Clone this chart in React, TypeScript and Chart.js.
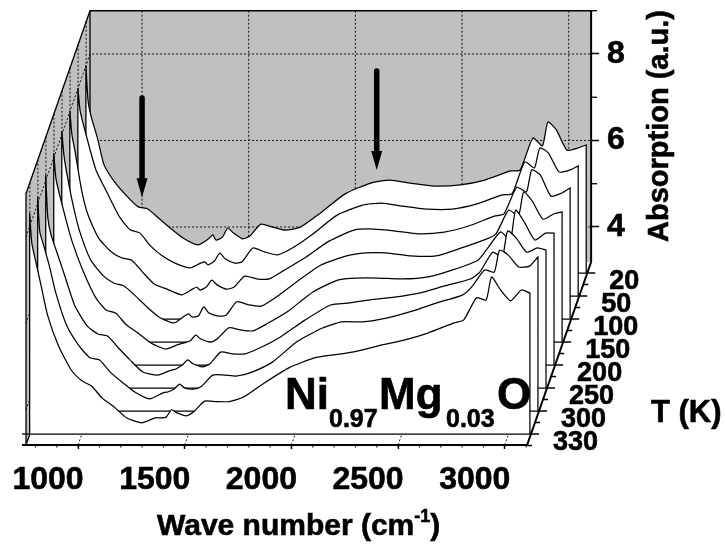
import React, { useEffect, useRef } from "react";
import { Chart, registerables } from "chart.js";

Chart.register(...registerables);

const waveNumbers = [755, 765, 780, 810, 840, 890, 950, 1000, 1045, 1095, 1150, 1210, 1280, 1330, 1350, 1365, 1395, 1420, 1445, 1490, 1525, 1575, 1630, 1690, 1760, 1855, 1970, 2090, 2180, 2275, 2390, 2510, 2625, 2745, 2790, 2850, 2895, 2920, 2960, 3010, 3060, 3100];

const temperatures = ["330", "300", "250", "200", "150", "100", "50", "20"];

const abs330 = [8.30, 7.61, 7.26, 6.59, 5.92, 5.23, 4.67, 4.42, 4.30, 4.02, 3.82, 3.56, 3.45, 3.54, 3.57, 3.56, 3.58, 3.75, 3.68, 3.61, 3.71, 3.95, 3.94, 3.94, 4.05, 4.37, 4.72, 4.95, 5.02, 5.09, 5.23, 5.36, 5.53, 5.76, 5.83, 6.34, 6.29, 6.82, 6.54, 6.27, 6.52, 6.45];
const abs300 = [8.14, 7.33, 7.07, 6.54, 5.92, 5.18, 4.69, 4.42, 4.37, 4.09, 3.86, 3.63, 3.47, 3.58, 3.62, 3.63, 3.70, 3.81, 3.72, 3.70, 3.77, 4.02, 4.02, 4.00, 4.09, 4.32, 4.79, 5.11, 5.25, 5.25, 5.34, 5.50, 5.69, 5.87, 6.06, 6.45, 6.40, 6.91, 6.80, 6.52, 6.54, 6.75];
const abs250 = [8.12, 7.12, 6.73, 6.29, 5.85, 5.11, 4.62, 4.44, 4.39, 4.12, 3.84, 3.56, 3.49, 3.58, 3.61, 3.63, 3.72, 3.84, 3.75, 3.68, 3.75, 4.02, 3.98, 3.98, 4.12, 4.37, 4.76, 5.11, 5.16, 5.23, 5.29, 5.39, 5.55, 5.71, 5.87, 6.33, 6.22, 6.82, 6.66, 6.33, 6.43, 6.38];
const abs200 = [8.09, 7.51, 7.17, 6.59, 6.06, 5.39, 4.76, 4.46, 4.39, 4.12, 3.93, 3.70, 3.56, 3.65, 3.68, 3.70, 3.75, 3.88, 3.79, 3.72, 3.81, 4.05, 4.00, 3.98, 4.16, 4.44, 4.88, 5.16, 5.20, 5.20, 5.18, 5.23, 5.39, 5.62, 5.90, 6.27, 6.08, 6.77, 6.50, 6.08, 6.24, 6.24];
const abs150 = [8.07, 7.51, 7.05, 6.31, 5.73, 5.09, 4.72, 4.55, 4.49, 4.28, 4.02, 3.77, 3.63, 3.79, 3.84, 3.77, 3.79, 4.00, 3.86, 3.79, 3.81, 4.12, 4.05, 4.02, 4.23, 4.58, 4.97, 5.18, 5.25, 5.25, 5.18, 5.18, 5.36, 5.57, 5.69, 6.24, 6.10, 6.66, 6.45, 6.03, 6.15, 6.20];
const abs100 = [8.00, 7.44, 7.05, 6.17, 5.60, 5.06, 4.74, 4.60, 4.55, 4.28, 4.00, 3.88, 3.75, 3.88, 3.93, 3.86, 3.93, 4.09, 3.98, 3.88, 3.93, 4.18, 4.12, 4.12, 4.32, 4.60, 4.99, 5.25, 5.27, 5.23, 5.16, 5.20, 5.34, 5.57, 5.62, 6.24, 6.13, 6.64, 6.52, 6.03, 6.10, 6.22];
const abs50 = [8.00, 7.49, 7.17, 6.61, 6.10, 5.60, 5.02, 4.72, 4.65, 4.35, 4.12, 3.95, 3.84, 3.95, 3.98, 3.91, 4.00, 4.18, 4.05, 3.95, 3.98, 4.30, 4.21, 4.14, 4.30, 4.62, 5.06, 5.29, 5.34, 5.27, 5.20, 5.20, 5.32, 5.53, 5.55, 6.29, 6.15, 6.61, 6.50, 6.06, 6.10, 6.20];
const abs20 = [7.98, 7.17, 6.80, 6.29, 5.69, 5.29, 4.95, 4.72, 4.67, 4.46, 4.23, 4.00, 3.84, 3.98, 4.07, 3.95, 4.02, 4.23, 4.12, 3.98, 4.05, 4.32, 4.25, 4.18, 4.25, 4.58, 5.02, 5.27, 5.34, 5.27, 5.20, 5.23, 5.34, 5.55, 5.57, 6.31, 6.13, 6.68, 6.50, 6.03, 6.08, 6.15];

const seriesValues = [abs330, abs300, abs250, abs200, abs150, abs100, abs50, abs20];

const waveTicks = [1000, 1500, 2000, 2500, 3000];
const absorptionTicks = [4, 6, 8];
const arrowMarks = [
  { wave: 1000, from: 7.03, to: 4.69 },
  { wave: 2100, from: 7.65, to: 5.32 },
];

const WAVE_MIN = 756;
const WAVE_MAX = 3105;
const ABS_FLOOR = 3.19;
const ABS_TOP = 9;
const DEPTH_WAVE = 300;
const DEPTH_ABS = 4.231;
const depthOf = (i: number) => (11 + 23 * i) / 183;
const FONT = '"Liberation Sans", Arial, sans-serif';
const INK = "#000";
const HEAVY = 0.6;

const project = (chart: any, wave: number, abs: number, depth: number) => ({
  x: chart.scales.x.getPixelForValue(wave + depth * DEPTH_WAVE),
  y: chart.scales.y.getPixelForValue(abs + (depth - 1) * DEPTH_ABS),
});

const poly = (ctx: any, pts: { x: number; y: number }[], close = false) => {
  ctx.beginPath();
  pts.forEach((p, i) => (i ? ctx.lineTo(p.x, p.y) : ctx.moveTo(p.x, p.y)));
  if (close) ctx.closePath();
};

const wallsPlugin = {
  id: "walls",
  beforeDatasetsDraw(chart: any) {
    const ctx = chart.ctx;
    const P = (w: number, a: number, d: number) => project(chart, w, a, d);
    ctx.save();
    ctx.fillStyle = "#c0c0c0";
    poly(ctx, [P(WAVE_MIN, ABS_TOP, 1), P(WAVE_MAX, ABS_TOP, 1), P(WAVE_MAX, ABS_FLOOR, 1), P(WAVE_MIN, ABS_FLOOR, 1)], true);
    ctx.fill();
    poly(ctx, [P(WAVE_MIN, ABS_TOP, 0), P(WAVE_MIN, ABS_TOP, 1), P(WAVE_MIN, ABS_FLOOR, 1), P(WAVE_MIN, ABS_FLOOR, 0)], true);
    ctx.fill();

    ctx.strokeStyle = "#111";
    ctx.lineWidth = 1;
    ctx.setLineDash([2, 2]);
    absorptionTicks.forEach((a) => {
      poly(ctx, [P(WAVE_MIN, a, 0), P(WAVE_MIN, a, 1), P(WAVE_MAX, a, 1)]);
      ctx.stroke();
    });
    waveTicks.forEach((w) => {
      poly(ctx, [P(w, ABS_TOP, 1), P(w, ABS_FLOOR, 1)]);
      ctx.stroke();
      poly(ctx, [P(w, ABS_FLOOR, 0), P(w, ABS_FLOOR, 0.06)]);
      ctx.stroke();
    });
    temperatures.forEach((_, i) => {
      poly(ctx, [P(WAVE_MIN, ABS_TOP, depthOf(i)), P(WAVE_MIN, ABS_FLOOR, depthOf(i))]);
      ctx.stroke();
    });
    ctx.setLineDash([]);

    ctx.lineWidth = 1.3;
    ctx.strokeStyle = INK;
    poly(ctx, [P(WAVE_MIN, ABS_FLOOR, 0), P(WAVE_MIN, ABS_TOP, 0), P(WAVE_MIN, ABS_TOP, 1), P(WAVE_MAX, ABS_TOP, 1)]);
    ctx.stroke();
    poly(ctx, [P(WAVE_MIN, ABS_TOP, 1), P(WAVE_MIN, ABS_FLOOR, 1)]);
    ctx.stroke();
    ctx.restore();
  },
  afterDatasetsDraw(chart: any) {
    const ctx = chart.ctx;
    const P = (w: number, a: number, d: number) => project(chart, w, a, d);
    ctx.save();
    ctx.strokeStyle = INK;

    ctx.lineWidth = 2;
    poly(ctx, [P(WAVE_MAX, ABS_TOP, 1), P(WAVE_MAX, ABS_FLOOR, 1)]);
    ctx.stroke();
    ctx.lineWidth = 1.3;
    [5, 7, 9].forEach((a) => {
      const p = P(WAVE_MAX, a, 1);
      poly(ctx, [p, { x: p.x + 6, y: p.y }]);
      ctx.stroke();
    });

    ctx.lineWidth = 2;
    const f0 = P(WAVE_MIN, ABS_FLOOR, 0);
    const f1 = P(WAVE_MAX, ABS_FLOOR, 0);
    poly(ctx, [{ x: f0.x - 4, y: f0.y }, f1]);
    ctx.stroke();
    poly(ctx, [f1, P(WAVE_MAX, ABS_FLOOR, 1)]);
    ctx.stroke();
    ctx.lineWidth = 1.3;
    poly(ctx, [{ x: f0.x - 4, y: P(WAVE_MIN, ABS_FLOOR, depthOf(0)).y }, P(WAVE_MIN, ABS_FLOOR, depthOf(0))]);
    ctx.stroke();
    poly(ctx, [f0, P(WAVE_MIN, ABS_FLOOR, depthOf(0))]);
    ctx.stroke();

    ctx.lineWidth = 1;
    for (let w = 800; w <= 3100; w += 100) {
      const p = P(w, ABS_FLOOR, 0);
      poly(ctx, [p, { x: p.x, y: p.y + 2.5 }]);
      ctx.stroke();
    }

    const put = (s: string, x: number, y: number) => {
      ctx.fillText(s, x, y);
      const lw = ctx.lineWidth;
      ctx.lineWidth = HEAVY;
      ctx.strokeText(s, x, y);
      ctx.lineWidth = lw;
    };

    ctx.font = `bold 27px ${FONT}`;
    ctx.fillStyle = INK;
    ctx.textAlign = "left";
    ctx.textBaseline = "alphabetic";
    temperatures.forEach((t, i) => {
      ctx.lineWidth = 1.5;
      const p = P(WAVE_MAX, ABS_FLOOR, depthOf(i));
      poly(ctx, [p, { x: p.x + 8, y: p.y }]);
      ctx.stroke();
      const m = P(WAVE_MAX, ABS_FLOOR, depthOf(i) - 11.5 / 183);
      poly(ctx, [m, { x: m.x + 5, y: m.y }]);
      ctx.stroke();
      put(t, p.x + 8 + 14, p.y + 16);
    });

    arrowMarks.forEach((a) => {
      const top = P(a.wave, a.from, 1);
      const tip = P(a.wave, a.to, 1);
      ctx.lineWidth = 5.5;
      ctx.lineCap = "round";
      poly(ctx, [{ x: tip.x, y: top.y + 2 }, { x: tip.x, y: tip.y - 16 }]);
      ctx.stroke();
      ctx.lineCap = "butt";
      ctx.fillStyle = INK;
      poly(ctx, [tip, { x: tip.x - 5.5, y: tip.y - 19 }, { x: tip.x + 5.5, y: tip.y - 19 }], true);
      ctx.fill();
    });

    const flow = (parts: [string, number, number][], startX: number) => {
      let x = startX;
      parts.forEach(([s, size, base]) => {
        ctx.font = `bold ${size}px ${FONT}`;
        put(s, x, base);
        x += ctx.measureText(s).width;
      });
    };
    ctx.textAlign = "left";
    flow([["Wave number (cm", 30, 535], ["-1", 18, 522], [")", 30, 535]], 157);
    ctx.font = `bold 31px ${FONT}`;
    put("T (K)", 651, 422);
    const place = (s: string, size: number, x: number, y: number) => {
      ctx.font = `bold ${size}px ${FONT}`;
      put(s, x, y);
    };
    place("Ni", 44, 285, 409);
    place("0.97", 25, 329, 427);
    place("Mg", 44, 379, 409);
    place("0.03", 25, 446, 427);
    place("O", 44, 497, 409);
    ctx.save();
    ctx.translate(668, 126);
    ctx.rotate(-Math.PI / 2);
    ctx.textAlign = "center";
    ctx.font = `bold 29px ${FONT}`;
    put("Absorption (a.u.)", 0, 0);
    ctx.restore();
    ctx.restore();
  },
};

export default function App() {
  const ref = useRef<HTMLCanvasElement | null>(null);
  useEffect(() => {
    const datasets = seriesValues.map((values, i) => {
      const d = depthOf(i);
      const pt = (w: number, a: number) => ({ x: w + d * DEPTH_WAVE, y: a + (d - 1) * DEPTH_ABS });
      const first = waveNumbers[0];
      const last = waveNumbers[waveNumbers.length - 1];
      const curve = values.map((v, k) => pt(waveNumbers[k], v));
      const baseL = pt(first, ABS_FLOOR);
      const baseR = pt(last, ABS_FLOOR);
      return {
        label: temperatures[i] + " K",
        // corners are repeated so the curve smoothing leaves the closing edges straight
        data: [baseL, baseL, curve[0], curve[0], ...curve.slice(1, -1), curve[curve.length - 1], curve[curve.length - 1], baseR, baseR, baseL, baseL],
        showLine: true,
        fill: "shape",
        backgroundColor: "#fff",
        borderColor: INK,
        borderWidth: 1.25,
        pointRadius: 0,
        tension: 0.2,
        clip: false,
      };
    });
    const chart = new Chart(ref.current as HTMLCanvasElement, {
      type: "scatter",
      data: { datasets } as any,
      options: {
        responsive: false,
        animation: false,
        layout: { padding: { left: 26, top: 10, right: 0, bottom: 0 } },
        plugins: { legend: { display: false }, tooltip: { enabled: false }, title: { display: false } },
        scales: {
          x: {
            type: "linear",
            min: WAVE_MIN,
            max: 3404.4,
            afterBuildTicks: (s: any) => {
              s.ticks = waveTicks.map((value) => ({ value }));
            },
            afterFit: (s: any) => {
              s.height = 100;
              s.paddingLeft = 0;
              s.paddingRight = 0;
            },
            grid: { display: true, drawOnChartArea: false, tickLength: 4, tickColor: INK, tickWidth: 1.5 },
            border: { display: false },
            ticks: {
              autoSkip: false,
              maxRotation: 0,
              labelOffset: -30,
              padding: 12,
              color: INK,
              textStrokeColor: INK,
              textStrokeWidth: HEAVY,
              font: { family: FONT, size: 32, weight: "bold" },
              callback: (v: any) => String(v),
            },
          },
          y: {
            type: "linear",
            position: "right",
            min: -1.041,
            max: 9.017,
            afterBuildTicks: (s: any) => {
              s.ticks = absorptionTicks.map((value) => ({ value }));
            },
            afterFit: (s: any) => {
              s.width = 134;
              s.paddingTop = 0;
              s.paddingBottom = 0;
            },
            grid: { display: true, drawOnChartArea: false, tickLength: 8, tickColor: INK, tickWidth: 1.5 },
            border: { display: false },
            ticks: {
              autoSkip: false,
              padding: 8,
              color: INK,
              textStrokeColor: INK,
              textStrokeWidth: HEAVY,
              font: { family: FONT, size: 32, weight: "bold" },
              callback: (v: any) => String(v),
            },
          },
        },
      } as any,
      plugins: [wallsPlugin],
    });
    return () => chart.destroy();
  }, []);
  return (
    <div style={{ position: "fixed", left: 0, top: 0, width: 725, height: 545, background: "#fff" }}>
      <canvas ref={ref} width={725} height={545} style={{ display: "block" }} />
    </div>
  );
}
